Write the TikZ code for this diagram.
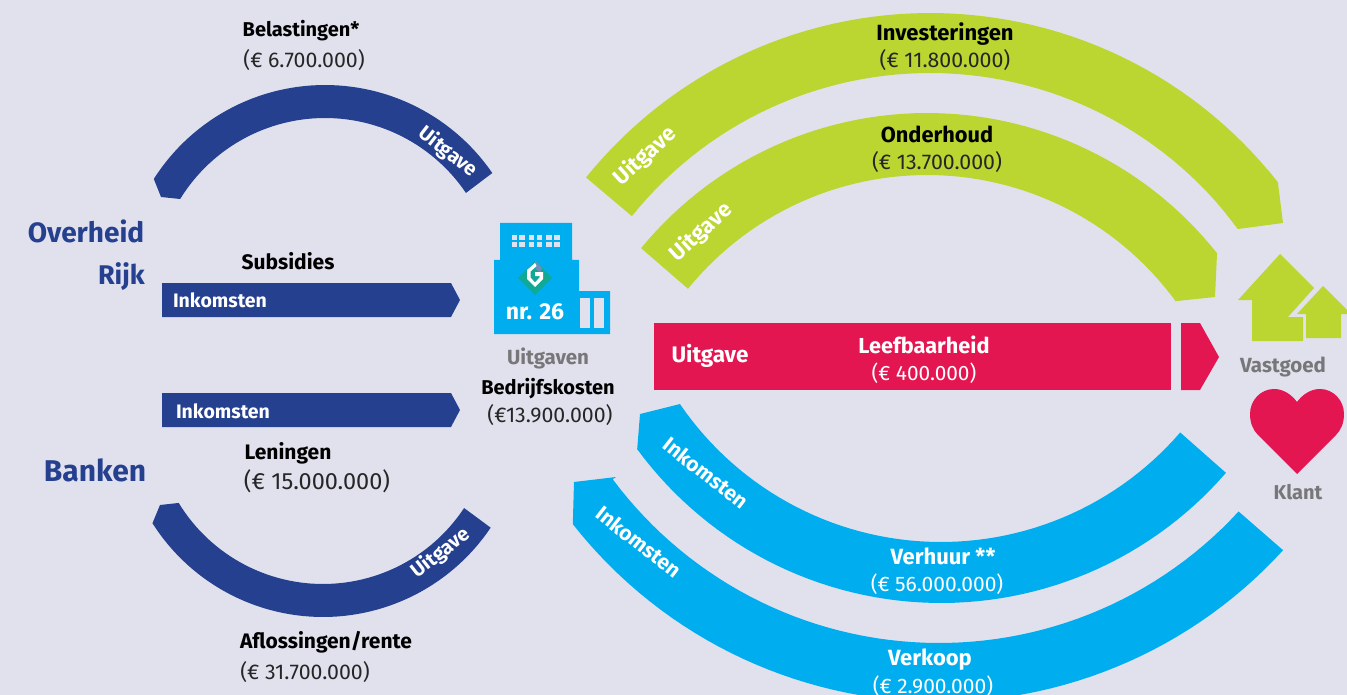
\documentclass[tikz,border=0pt]{standalone}
\usepackage{fontspec}
\setmainfont{Fira Sans}
\definecolor{bgc}{HTML}{E1E1EE}
\definecolor{navy}{HTML}{25408F}
\definecolor{lime}{HTML}{BBD531}
\definecolor{sky}{HTML}{00AEEF}
\definecolor{crim}{HTML}{E31651}
\definecolor{greyt}{HTML}{77777A}
\definecolor{inkt}{HTML}{262626}
\definecolor{tealc}{HTML}{0FA996}
\definecolor{slatec}{HTML}{6F8FB8}
\newcommand\bandpath[8]{plot[domain=#4:#5,samples=60] ({#1+#3*cos(\x)},{#2-#3*sin(\x)}) -- plot[domain=#8:#7,samples=60] ({#1+#6*cos(\x)},{#2-#6*sin(\x)})}
\tikzset{
  head/.style={font=\fontsize{#1}{24}\bfseries\selectfont,text=black,inner sep=0pt},
  head/.default=21,
  amount/.style={font=\fontsize{#1}{24}\selectfont,text=inkt,inner sep=0pt},
  amount/.default=21.3,
  whead/.style={head=#1,text=white},
  whead/.default=22,
  wamount/.style={amount=#1,text=white},
  wamount/.default=21,
  party/.style={font=\fontsize{#1}{32}\bfseries\selectfont,text=navy,inner sep=0pt},
  party/.default=28,
  tag/.style={font=\fontsize{#1}{24}\bfseries\selectfont,text=white,inner sep=0pt},
  tag/.default=20,
  greyl/.style={font=\fontsize{#1}{23}\bfseries\selectfont,text=greyt,inner sep=0pt},
  greyl/.default=20.5,
}
\begin{document}
\begin{tikzpicture}[x=1pt,y=-1pt]
\fill[bgc] (0,0) rectangle (1347,695);
\useasboundingbox (0,0) rectangle (1347,695);
% navy arcs
\fill[navy] \bandpath{325}{288}{203}{147.5}{34.5}{170}{148.5}{34} -- (180,199) -- (161,197) -- cycle;
\fill[navy] \bandpath{323}{415}{202}{-147.6}{-33.9}{169}{-148.7}{-33.4} -- (178,503) -- (160,505) -- cycle;
% green arcs
\fill[lime] \bandpath{930}{455}{442}{141.1}{38}{382}{141.3}{36.3} -- cycle;
\fill[lime] (1268,170) -- (1278,183) -- (1283,223) -- (1238,229) -- (1200,180) -- cycle;
\fill[lime] \bandpath{927}{483}{370}{140.6}{38.3}{308}{140.9}{36.1} -- cycle;
\fill[lime] (1205,241) -- (1217,254) -- (1215,297) -- (1177,301) -- (1150,260) -- cycle;
% blue arcs
\fill[sky] \bandpath{941}{226}{377}{-143.7}{-40.9}{316}{-145.7}{-40.8} -- (680,404) -- (640,414) -- cycle;
\fill[sky] \bandpath{939}{236}{466}{-141.8}{-42.4}{407}{-143.3}{-42.6} -- (616,477) -- (574,482) -- cycle;
% navy arrows
\fill[navy] (162,283) -- (451,283) -- (460,300) -- (451,317) -- (162,317) -- cycle;
\fill[navy] (162,393) -- (451,393) -- (460,410) -- (451,427) -- (162,427) -- cycle;
% red arrow
\fill[crim] (654,323) rectangle (1171,390);
\fill[crim] (1181,323) -- (1200,323) -- (1219,357) -- (1200,390) -- (1181,390) -- cycle;
% houses
\fill[lime] (1280,254) -- (1314,288) -- (1288,317) -- (1303,317) -- (1303,341) -- (1252,341) -- (1252,300) -- (1238,300) -- cycle;
\fill[lime] (1323,286) -- (1347,310) -- (1347,314) -- (1341,314) -- (1341,338) -- (1306,338) -- (1306,314) -- (1297,314) -- cycle;
% heart
\fill[crim] (1297,402) .. controls (1291,394) and (1283,389) .. (1274,389) .. controls (1261,389) and (1250,400) .. (1250,414) .. controls (1250,423) and (1253,430) .. (1258,435) -- (1297,474) -- (1336,435) .. controls (1341,430) and (1344,423) .. (1344,414) .. controls (1344,400) and (1333,389) .. (1320,389) .. controls (1311,389) and (1303,394) .. (1297,402) -- cycle;
% building
\fill[sky] (500,223) -- (572,223) -- (572,260) -- (579,260) -- (579,291) -- (610,291) -- (610,334) -- (494,334) -- (494,260) -- (500,260) -- cycle;
\foreach \wx in {511.5,519,528.5,536.5,546,554}{
  \foreach \wy in {235,242}{
    \fill[bgc] (\wx,\wy) rectangle ++(5.5,5.2);
  }
}
\fill[bgc] (580,298) rectangle (590,328);
\fill[bgc] (594,298) rectangle (604,328);
\fill[tealc] (535,261) -- (552,278) -- (535,295) -- (518,278) -- cycle;
\fill[slatec] (535,261) -- (542,268) -- (540,273) -- (535,268) -- cycle;
\fill[white] (535,263) -- (527,270) -- (527,279) -- (535,287) -- (543,279) -- (543,272) -- (535,272) -- (535,276) -- (539.5,276) -- (539.5,277.5) -- (535,282.5) -- (530.5,277.5) -- (530.5,271.5) -- (536.5,266) -- cycle;
% texts
\node[head=20] (belast) at (301,31) {Belastingen*};
\node[amount] (belastv) at (304,60) {(€ 6.700.000)};
\node[head=22] (invest) at (945,34) {Investeringen};
\node[amount] (investv) at (945,60) {(€ 11.800.000)};
\node[head=21.8] (onder) at (937,134) {Onderhoud};
\node[amount] (onderv) at (937,162) {(€ 13.700.000)};
\node[party] (overheid) at (86,231) {Overheid};
\node[party=27,anchor=east] (rijk) at (145,277) {Rijk};
\node[party=30] (banken) at (95,470) {Banken};
\node[head] (subs) at (288,261) {Subsidies};
\node[tag=19.5] (ink1) at (220,300) {Inkomsten};
\node[tag=19.5] (ink2) at (223,411) {Inkomsten};
\node[greyl] (uitg) at (548,358) {Uitgaven};
\node[head=20] (bedr) at (548,389) {Bedrijfskosten};
\node[amount] (bedrv) at (550,415) {(€13.900.000)};
\node[font=\fontsize{23}{27}\bfseries\selectfont,text=white,inner sep=0pt] (nr) at (535,312) {nr. 26};
\node[tag=22.5] (uitr) at (710,356) {Uitgave};
\node[whead=21.7] (leef) at (924,345) {Leefbaarheid};
\node[wamount=20.8] (leefv) at (924,373) {(€ 400.000)};
\node[greyl] (vast) at (1283,367) {Vastgoed};
\node[greyl=20] (klant) at (1298,492) {Klant};
\node[head] (len) at (288,453) {Leningen};
\node[amount=23.5] (lenv) at (317,481) {(€ 15.000.000)};
\node[head] (afl) at (326,642) {Aflossingen/rente};
\node[amount] (aflv) at (305,672) {(€ 31.700.000)};
\node[whead] (verh) at (943,556) {Verhuur **};
\node[wamount] (verhv) at (937,584) {(€ 56.000.000)};
\node[whead] (verk) at (930,660) {Verkoop};
\node[wamount] (verkv) at (933,686) {(€ 2.900.000)};
\node[tag,rotate=-38] (u1) at (448,152) {Uitgave};
\node[tag,rotate=38] (u2) at (441,553) {Uitgave};
\node[tag=22,rotate=42] (u3) at (645,156) {Uitgave};
\node[tag=22,rotate=42] (u4) at (701,232) {Uitgave};
\node[tag=21,rotate=-38] (i1) at (706,473) {Inkomsten};
\node[tag=21,rotate=-38] (i2) at (639,542) {Inkomsten};
\end{tikzpicture}
\end{document}
